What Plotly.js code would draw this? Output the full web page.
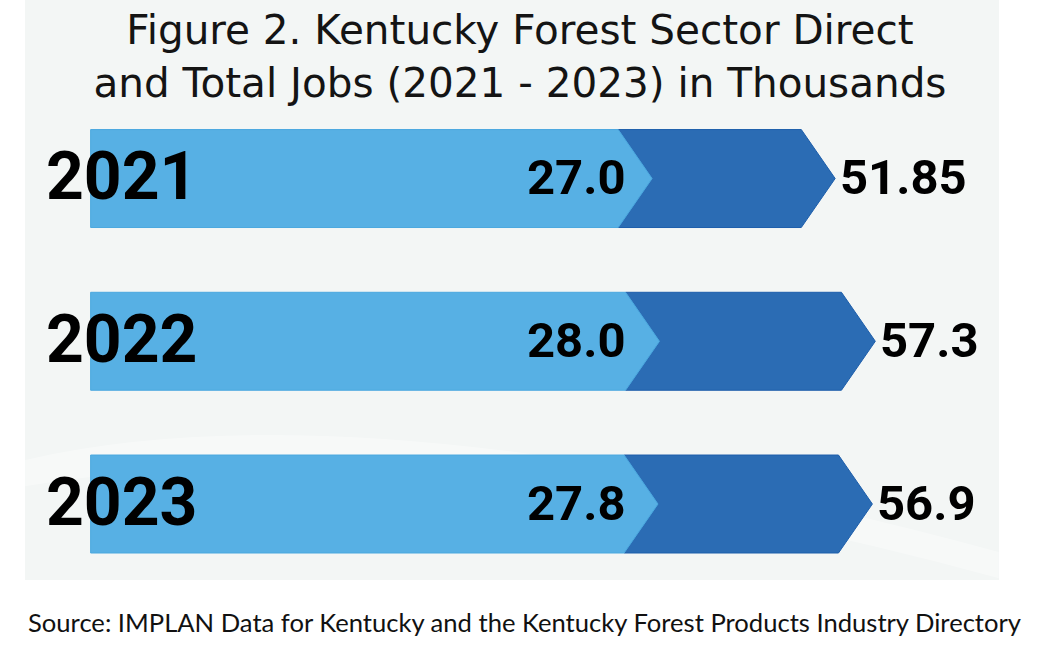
<!DOCTYPE html>
<html>
<head>
<meta charset="utf-8">
<script src="https://cdn.plot.ly/plotly-3.0.1.min.js"></script>
<style>
  html, body { margin: 0; padding: 0; background: #ffffff; }
  #chart { width: 1047px; height: 657px; }
</style>
</head>
<body>
<div id="chart"></div>
<script>
// ---- Data ----
const years = ['2021', '2022', '2023'];
const directJobs = [27.0, 28.0, 27.8];      // thousands, light arrows
const totalJobs = [51.85, 57.3, 56.9];      // thousands, dark arrows
const directLabels = ['27.0', '28.0', '27.8'];
const totalLabels = ['51.85', '57.3', '56.9'];
const titleText = 'Figure 2. Kentucky Forest Sector Direct<br>and Total Jobs (2021 - 2023) in Thousands';
const sourceText = 'Source: IMPLAN Data for Kentucky and the Kentucky Forest Products Industry Directory';

// ---- Layout / style constants ----
const W = 1047, H = 657;
const X_RANGE = [-61.5, 80.6];
const BAR_BASE = -49.2;     // left edge of every arrow, in axis units
const TIP = 4.6;            // arrow point length, in axis units
const HALF = 0.301;         // half arrow thickness, in category units
const Y_RANGE = [2.94, -1.097];
const LIGHT = '#57b0e4';
const LIGHT_EDGE = '#4ba8df';
const DARK = '#2b6cb4';
const DARK_EDGE = '#1d5eab';

const traces = [];
years.forEach((yr, i) => {
  const d = directJobs[i], t = totalJobs[i];
  // dark (total) arrow, starting at the shoulder of the light arrow
  traces.push({
    type: 'scatter', mode: 'lines', fill: 'toself',
    x: [d - TIP, t - TIP, t, t - TIP, d - TIP, d - TIP],
    y: [i - HALF, i - HALF, i, i + HALF, i + HALF, i - HALF],
    fillcolor: DARK, line: {color: DARK_EDGE, width: 1},
    hoverinfo: 'skip', showlegend: false
  });
  // light (direct) arrow
  traces.push({
    type: 'scatter', mode: 'lines', fill: 'toself',
    x: [BAR_BASE, d - TIP, d, d - TIP, BAR_BASE, BAR_BASE],
    y: [i - HALF, i - HALF, i, i + HALF, i + HALF, i - HALF],
    fillcolor: LIGHT, line: {color: LIGHT_EDGE, width: 1},
    hoverinfo: 'skip', showlegend: false
  });
});

const annotations = [];
years.forEach((yr, i) => {
  annotations.push({
    xref: 'paper', yref: 'y', x: 44 / W, y: i, xanchor: 'left', yanchor: 'middle',
    text: yr, showarrow: false, yshift: 2,
    font: {family: 'Roboto, Arial, sans-serif', size: 66, weight: 700, color: '#000000'}
  });
  annotations.push({
    xref: 'paper', yref: 'y', x: 576 / W, y: i, xanchor: 'center', yanchor: 'middle',
    text: directLabels[i], showarrow: false, yshift: 1,
    font: {family: 'Roboto, Arial, sans-serif', size: 49, weight: 700, color: '#000000'}
  });
  annotations.push({
    xref: 'x', yref: 'y', x: totalJobs[i], y: i, xanchor: 'left', yanchor: 'middle',
    text: totalLabels[i], showarrow: false, xshift: 3, yshift: 1,
    font: {family: 'Roboto, Arial, sans-serif', size: 49, weight: 700, color: '#000000'}
  });
});
annotations.push({
  xref: 'paper', yref: 'paper', x: 26 / W, y: 1 - 622 / H, xanchor: 'left', yanchor: 'middle',
  text: sourceText, showarrow: false,
  font: {family: 'Lato, Arial, sans-serif', size: 25.6, color: '#111111'}
});

const layout = {
  width: W, height: H,
  margin: {l: 0, r: 0, t: 0, b: 0, pad: 0},
  paper_bgcolor: '#ffffff', plot_bgcolor: 'rgba(0,0,0,0)',
  title: {
    text: titleText, x: 520 / W, xanchor: 'center',
    y: 1 - 44 / H, yanchor: 'middle', yref: 'container',
    font: {family: '"DejaVu Sans", Arial, sans-serif', size: 40.5, color: '#141414'}
  },
  xaxis: {range: X_RANGE, visible: false, fixedrange: true},
  yaxis: {range: Y_RANGE, visible: false, fixedrange: true},
  shapes: [
    {type: 'rect', xref: 'paper', yref: 'paper', layer: 'below',
     x0: 25 / W, x1: 999 / W, y0: 1 - 580 / H, y1: 1,
     fillcolor: '#f3f6f5', line: {width: 0}},
    {type: 'path', xref: 'paper', yref: 'paper', layer: 'below',
     path: 'M 0.024 0.30 Q 0.35 0.42 0.954 0.16 L 0.954 0.12 Q 0.40 0.36 0.024 0.26 Z',
     fillcolor: 'rgba(255,255,255,0.35)', line: {width: 0}}
  ],
  annotations: annotations,
  hovermode: false, showlegend: false
};

Plotly.newPlot('chart', traces, layout, {displayModeBar: false, staticPlot: true});
</script>
</body>
</html>
